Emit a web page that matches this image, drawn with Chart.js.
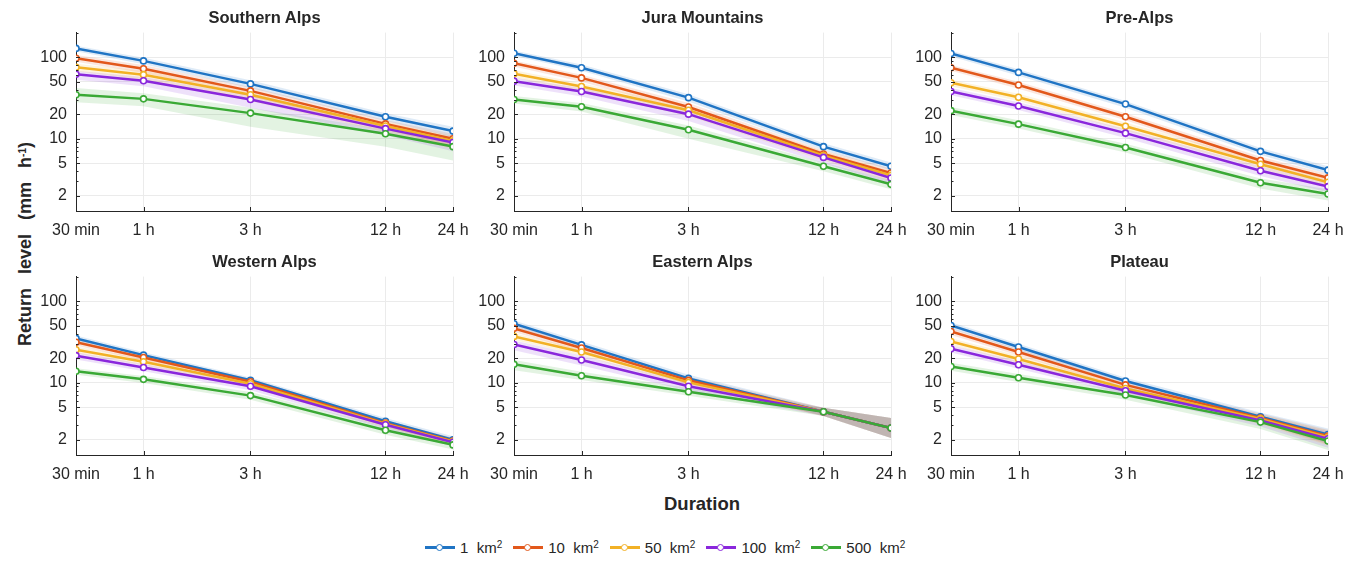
<!DOCTYPE html>
<html>
<head>
<meta charset="utf-8">
<script src="https://cdn.jsdelivr.net/npm/chart.js@4.4.1/dist/chart.umd.min.js"></script>
<style>
  body { margin: 0; background: #fff; width: 1358px; height: 563px; position: relative; overflow: hidden;
         font-family: "Liberation Sans", Arial, sans-serif; color: #262626; }
  .panel { position: absolute; }
  .title { position: absolute; width: 377px; text-align: center; font-weight: bold; font-size: 16.5px; }
  #ylabel { position: absolute; left: 25px; top: 244px; transform: translate(-50%, -50%) rotate(-90deg);
            font-weight: bold; font-size: 18px; white-space: pre; word-spacing: 2px; }
  #xlabel { position: absolute; left: 702px; top: 504px; transform: translate(-50%, -50%);
            font-weight: bold; font-size: 18.5px; }
  #legend { position: absolute; left: 425px; top: 539px; display: flex; align-items: center; font-size: 15px; white-space: pre; }
  .item { display: flex; align-items: center; margin-right: 11px; }
  .sw { position: relative; width: 30px; height: 2.5px; margin-right: 5px; }
  .sw i { position: absolute; left: 11px; top: -2.5px; width: 5px; height: 5px; border-radius: 50%; background: #fff; border: 1.5px solid; }
  sup { font-size: 10px; vertical-align: 5px; }
</style>
</head>
<body>
<div id="ylabel">Return  level  (mm  h<sup>-1</sup>)</div>
<div id="xlabel">Duration</div>
<div id="legend"></div>
<script>
// axes
const durations = [0.5, 1, 3, 12, 24];
const durationLabels = ["30 min", "1 h", "3 h", "12 h", "24 h"];
const yTicks = [2, 5, 10, 20, 50, 100];
const yMinorTicks = [2, 3, 4, 5, 6, 7, 8, 9, 10, 20, 30, 40, 50, 60, 70, 80, 90, 100, 200];

const areas = ["1", "10", "50", "100", "500"];
const colors = ["#1f74c4", "#e2581b", "#f2b126", "#8a27dc", "#3aa935"];
const regions = ["Southern Alps", "Jura Mountains", "Pre-Alps", "Western Alps", "Eastern Alps", "Plateau"];

// return levels (mm/h), one row per area, one value per duration
const southernAlps   = [[128, 90, 47, 18.6, 12.4], [97, 72, 38.6, 15.2, 10], [75, 61, 34.6, 14.3, 9.4], [61.6, 51.3, 30.2, 13.3, 9], [34.6, 30.8, 20.6, 11.5, 8]];
const southernAlpsLo = [[118, 82, 42, 16.5, 10.5], [88, 64, 33, 13, 8], [67, 53, 29, 12, 7.5], [53, 44, 24, 11, 7], [28, 25, 14, 8, 5.4]];
const southernAlpsHi = [[138, 98, 52, 20.5, 14], [106, 80, 43, 17, 11.5], [83, 68, 39, 16, 10.8], [68, 57, 34, 15, 10.5], [42, 36, 24, 13, 9]];

const jura   = [[111.6, 74, 31.9, 8, 4.6], [84, 55.7, 24.5, 6.5, 3.8], [62.8, 43.6, 22.3, 6.2, 3.55], [50.8, 38, 20, 5.9, 3.3], [30.2, 24.7, 12.9, 4.6, 2.76]];
const juraLo = [[103, 68, 28.5, 7.2, 4.1], [77, 50, 21.5, 5.8, 3.3], [56, 38, 19, 5.4, 3], [45, 33, 16.5, 5, 2.8], [27, 21.5, 10, 4, 2.4]];
const juraHi = [[121, 81, 35, 8.8, 5.1], [91, 61, 27.5, 7.2, 4.3], [69, 48, 25, 7, 4], [56, 42, 23, 6.7, 3.8], [33.5, 27.5, 14.5, 5.1, 3.1]];

const preAlps   = [[110.7, 65, 26.6, 7, 4.12], [74, 45.5, 18.6, 5.4, 3.31], [48.6, 32.2, 14.2, 4.86, 2.93], [38, 25.2, 11.7, 4.05, 2.59], [22.1, 15.1, 7.8, 2.88, 2.1]];
const preAlpsLo = [[102, 59, 24, 6.3, 3.7], [68, 41, 16.8, 4.8, 2.9], [44, 29, 12.6, 4.3, 2.55], [34, 22.5, 10.2, 3.5, 2.2], [19.5, 13.3, 6.8, 2.45, 1.75]];
const preAlpsHi = [[120, 71, 29, 7.7, 4.6], [80, 50, 20.5, 6, 3.7], [53, 35.5, 15.8, 5.4, 3.3], [42, 28, 13.2, 4.6, 2.95], [24.5, 16.8, 8.7, 3.25, 2.4]];

const westernAlps   = [[35, 21.8, 10.7, 3.37, 2], [31.3, 20.4, 10.3, 3.2, 1.93], [25.4, 18.1, 9.7, 3.13, 1.9], [21.5, 15.4, 9.06, 3.05, 1.86], [13.8, 11, 6.95, 2.61, 1.73]];
const westernAlpsLo = [[32, 20, 9.8, 3.05, 1.8], [28.5, 18.6, 9.4, 2.9, 1.74], [23, 16.4, 8.8, 2.82, 1.7], [19.3, 13.8, 8.1, 2.72, 1.65], [12.5, 9.9, 6.2, 2.3, 1.52]];
const westernAlpsHi = [[38, 23.6, 11.6, 3.7, 2.2], [34, 22.2, 11.2, 3.5, 2.12], [27.8, 19.8, 10.6, 3.45, 2.1], [23.7, 17, 10, 3.38, 2.07], [15.1, 12.1, 7.7, 2.92, 1.94]];

const easternAlps   = [[52.8, 29.1, 11.3, 4.4, 2.79], [46.4, 26.6, 10.7, 4.4, 2.78], [37, 23.8, 10.1, 4.4, 2.78], [29.4, 19, 9.05, 4.4, 2.78], [16.8, 12.2, 7.75, 4.4, 2.78]];
const easternAlpsLo = [[48, 26.5, 10.2, 3.9, 2.1], [42, 24, 9.6, 3.9, 2.1], [33.5, 21.5, 9.1, 3.9, 2.1], [25, 16.3, 8, 3.9, 2.1], [14.2, 10.8, 6.9, 3.9, 2.1]];
const easternAlpsHi = [[58, 32, 12.5, 4.95, 3.7], [51, 29.3, 11.8, 4.95, 3.7], [40.5, 26, 11.1, 4.95, 3.7], [33, 21.5, 10, 4.95, 3.7], [19, 13.6, 8.6, 4.95, 3.7]];

const plateau   = [[50.3, 27.4, 10.5, 3.83, 2.32], [42.4, 23.8, 9.4, 3.7, 2.22], [32, 19.5, 8.5, 3.6, 2.15], [26.1, 16.6, 7.96, 3.44, 2.06], [15.8, 11.5, 7.08, 3.29, 1.93]];
const plateauLo = [[46, 25, 9.5, 3.3, 1.8], [38.5, 21.5, 8.4, 3.2, 1.75], [29, 17.5, 7.6, 3.1, 1.7], [23.5, 14.8, 7.1, 2.9, 1.6], [14, 10.2, 6.2, 2.7, 1.5]];
const plateauHi = [[55, 30, 11.5, 4.3, 2.75], [46.5, 26, 10.4, 4.2, 2.65], [35, 21.5, 9.4, 4.1, 2.6], [28.8, 18.4, 8.9, 3.95, 2.5], [17.6, 12.8, 7.9, 3.8, 2.35]];

const panelData = [
  [southernAlps, southernAlpsLo, southernAlpsHi],
  [jura, juraLo, juraHi],
  [preAlps, preAlpsLo, preAlpsHi],
  [westernAlps, westernAlpsLo, westernAlpsHi],
  [easternAlps, easternAlpsLo, easternAlpsHi],
  [plateau, plateauLo, plateauHi]
];

// layout
const plotLefts = [76, 514, 951];
const plotTops = [28, 272];
const plotW = 377, plotH = 183;
const padL = 60, padT = 14, padR = 30, padB = 34;

function rgba(hex, a) {
  const n = parseInt(hex.slice(1), 16);
  return `rgba(${n >> 16},${(n >> 8) & 255},${n & 255},${a})`;
}
const pts = arr => arr.map((v, i) => ({ x: durations[i], y: v }));

// MATLAB-style ticks pointing into the axes
const inwardTicks = {
  id: "inwardTicks",
  afterDraw(chart) {
    const { ctx, chartArea: a, scales: { x, y } } = chart;
    ctx.save();
    ctx.strokeStyle = "#262626";
    ctx.lineWidth = 1;
    ctx.beginPath();
    durations.forEach(v => {
      const px = Math.round(x.getPixelForValue(v)) + 0.5;
      ctx.moveTo(px, a.bottom);
      ctx.lineTo(px, a.bottom - 4);
    });
    yMinorTicks.forEach(v => {
      const py = Math.round(y.getPixelForValue(v)) + 0.5;
      const len = yTicks.includes(v) ? 4 : 2.5;
      ctx.moveTo(a.left, py);
      ctx.lineTo(a.left + len, py);
    });
    ctx.stroke();
    ctx.restore();
  }
};

regions.forEach((name, p) => {
  const col = p % 3, row = Math.floor(p / 3);
  const wrap = document.createElement("div");
  wrap.className = "panel";
  wrap.style.left = (plotLefts[col] - padL) + "px";
  wrap.style.top = (plotTops[row] - padT) + "px";
  const canvas = document.createElement("canvas");
  canvas.width = plotW + padL + padR;
  canvas.height = plotH + padT + padB;
  wrap.appendChild(canvas);
  document.body.appendChild(wrap);

  const title = document.createElement("div");
  title.className = "title";
  title.textContent = name;
  title.style.left = plotLefts[col] + "px";
  title.style.top = (plotTops[row] - 20) + "px";
  document.body.appendChild(title);

  const [mid, lo, hi] = panelData[p];
  const datasets = [];
  areas.forEach((area, s) => {
    datasets.push({ data: pts(lo[s]), borderWidth: 0, pointRadius: 0, fill: false, order: 20 + s });
    datasets.push({ data: pts(hi[s]), borderWidth: 0, pointRadius: 0, fill: "-1",
                    backgroundColor: rgba(colors[s], 0.14), order: 20 + s });
  });
  areas.forEach((area, s) => {
    datasets.push({
      label: area + " km²", data: pts(mid[s]), borderColor: colors[s], borderWidth: 2.5,
      pointRadius: 3, pointBorderWidth: 1.6, pointBackgroundColor: "#fff", pointBorderColor: colors[s],
      fill: false, order: 4 - s
    });
  });

  new Chart(canvas, {
    type: "line",
    data: { datasets },
    options: {
      responsive: false,
      animation: false,
      layout: { padding: { left: 0, top: padT, right: padR, bottom: 0 } },
      plugins: { legend: { display: false }, tooltip: { enabled: false } },
      scales: {
        x: {
          type: "logarithmic", min: 0.5, max: 24,
          afterBuildTicks: s => { s.ticks = durations.map(v => ({ value: v })); },
          afterFit: s => { s.height = padB; },
          grid: { color: "#ebebeb", drawTicks: false },
          border: { color: "#262626", width: 1 },
          ticks: {
            autoSkip: false, maxRotation: 0, padding: 10, color: "#262626",
            font: { family: "Liberation Sans", size: 16 },
            callback: v => durationLabels[durations.indexOf(v)]
          }
        },
        y: {
          type: "logarithmic", min: 1.3, max: 200,
          afterBuildTicks: s => { s.ticks = yTicks.map(v => ({ value: v })); },
          afterFit: s => { s.width = padL; },
          grid: { color: "#ebebeb", drawTicks: false },
          border: { color: "#262626", width: 1 },
          ticks: {
            padding: 9, color: "#262626",
            font: { family: "Liberation Sans", size: 16 },
            callback: v => String(v)
          }
        }
      }
    },
    plugins: [inwardTicks]
  });
});

// legend
const legend = document.getElementById("legend");
areas.forEach((area, s) => {
  const item = document.createElement("div");
  item.className = "item";
  item.innerHTML = `<span class="sw" style="background:${colors[s]}"><i style="border-color:${colors[s]}"></i></span><span>${area}  km<sup>2</sup></span>`;
  legend.appendChild(item);
});
</script>
</body>
</html>
